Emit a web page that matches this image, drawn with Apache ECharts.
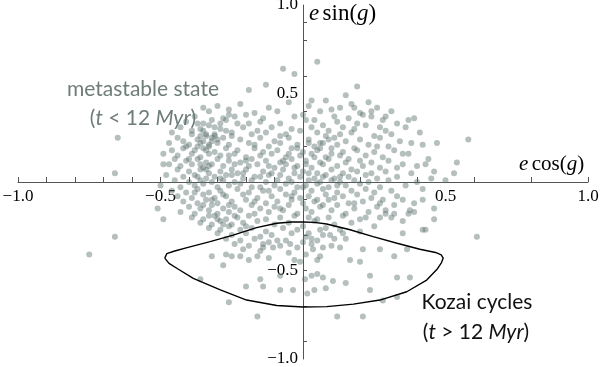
<!DOCTYPE html>
<html>
<head>
<meta charset="utf-8">
<script src="https://cdn.jsdelivr.net/npm/echarts@6.0.0/dist/echarts.min.js"></script>
<style>
* { margin: 0; padding: 0; }
#chart-container { width: 600px; height: 367px; background: #fff; }
</style>
</head>
<body>
<div id="chart-container"></div>
<script>
// tick / label positions
const xTickValues = [-1, -0.9, -0.8, -0.7, -0.6, -0.5, -0.4, -0.3, -0.2, -0.1, 0.2, 0.4, 0.6, 0.8, 1]
const yTickValues = [0.9, 0.8, 0.6, 0.4, 0.2, -0.1, -0.3, -0.5, -0.7, -0.9]
const xLabelValues = [-1, -0.5, 0.5, 1]
const yLabelValues = [1, 0.5, -0.5, -1]

// sparse points around the cloud
const outerPoints = [
  [-0.07, 0.64], [-0.03, 0.61], [-0.19, 0.52], [-0.13, 0.55], [-0.35, 0.42], [-0.65, 0.25], [-0.66, 0.05],
  [-0.49, 0.10], [-0.46, 0.18], [-0.41, 0.20], [-0.32, 0.35], [-0.29, 0.33], [-0.26, 0.38],
  [0.05, 0.68], [0.03, 0.46], [0.08, 0.46], [0.19, 0.54], [0.15, 0.49], [0.13, 0.42], [0.18, 0.42],
  [0.23, 0.45], [0.24, 0.40], [0.20, 0.39], [0.29, 0.37], [0.37, 0.35], [0.39, 0.36], [0.27, 0.31],
  [0.29, 0.29], [0.41, 0.28], [0.42, 0.21], [0.47, 0.22], [0.58, 0.24], [0.54, 0.11], [0.53, 0.05],
  [0.40, 0.09], [0.43, 0.10], [0.46, 0.06], [0.35, 0.16], [0.33, 0.08], [0.26, 0.20],
  [-0.66, -0.31], [-0.75, -0.41], [-0.49, -0.21], [-0.36, -0.55], [-0.16, -0.76], [-0.26, -0.68], [-0.51, -0.15],
  [-0.28, -0.47], [-0.22, -0.42], [-0.19, -0.44], [-0.15, -0.55], [-0.14, -0.59], [-0.20, -0.59],
  [-0.08, -0.53], [-0.08, -0.61], [-0.035, -0.61], [0.015, -0.63], [0.08, -0.60], [0.07, -0.54],
  [0.05, -0.52], [0.007, -0.55], [-0.01, -0.45], [0.035, -0.38], [0.07, -0.37], [0.13, -0.37],
  [0.165, -0.44], [0.2, -0.45], [0.235, -0.53], [0.15, -0.57], [0.235, -0.61], [0.12, -0.76],
  [0.21, -0.76], [0.21, -0.38], [0.27, -0.38], [0.32, -0.42], [0.365, -0.38], [0.375, -0.54],
  [0.33, -0.54], [0.42, -0.27], [0.46, -0.21], [0.375, -0.16], [0.32, -0.18], [-0.045, -0.35],
  [-0.09, -0.33], [-0.14, -0.37], [-0.16, -0.42], [-0.32, -0.42], [-0.27, -0.41], [-0.105, -0.37],
  [0.61, -0.31], [0.43, -0.27], [0.35, -0.29], [0.33, -0.65], [0.28, -0.67], [0.04, -0.61],
  [0.105, -0.56], [0.05, -0.44], [0.03, -0.53], [0.06, -0.27], [0.03, -0.32], [0.095, -0.30],
  [0.14, -0.29], [0.22, -0.20], [0.29, -0.18], [0.31, -0.20], [0.35, -0.22], [0.39, -0.17],
  [0.42, -0.10], [0.46, -0.15], [0.35, -0.10], [0.27, -0.12], [0.18, -0.12]
]

// dense cloud, upper half
const cloudUpper = [
  [-0.30, 0.43], [-0.22, 0.44], [-0.12, 0.42], [-0.05, 0.45], [0.02, 0.43], [0.10, 0.41], [0.17, 0.44], [0.26, 0.42],
  [-0.33, 0.40], [-0.26, 0.41], [-0.17, 0.39], [-0.09, 0.40], [0.00, 0.38], [0.06, 0.40], [0.21, 0.38], [0.31, 0.40],
  [-0.38, 0.37], [-0.28, 0.36], [-0.20, 0.38], [-0.14, 0.36], [-0.03, 0.37], [0.04, 0.35], [0.11, 0.37], [0.16, 0.36], [0.24, 0.37],
  [-0.41, 0.34], [-0.35, 0.33], [-0.27, 0.35], [-0.23, 0.33], [-0.15, 0.34], [-0.08, 0.33], [0.01, 0.35], [0.07, 0.32],
  [0.12, 0.34], [0.19, 0.33], [0.28, 0.35], [0.33, 0.33],
  [-0.43, 0.31], [-0.36, 0.30], [-0.33, 0.32], [-0.29, 0.30], [-0.21, 0.31], [-0.16, 0.29], [-0.11, 0.31], [-0.04, 0.30],
  [0.03, 0.31], [0.09, 0.29], [0.14, 0.31], [0.18, 0.30], [0.22, 0.32], [0.36, 0.31],
  [-0.46, 0.28], [-0.39, 0.27], [-0.35, 0.29], [-0.31, 0.27], [-0.25, 0.28], [-0.18, 0.27], [-0.13, 0.28], [-0.06, 0.27],
  [-0.01, 0.29], [0.05, 0.28], [0.08, 0.26], [0.13, 0.27], [0.17, 0.28], [0.25, 0.26], [0.31, 0.27],
  [-0.44, 0.25], [-0.37, 0.24], [-0.34, 0.26], [-0.32, 0.23], [-0.28, 0.25], [-0.22, 0.24], [-0.15, 0.25], [-0.10, 0.23],
  [-0.05, 0.25], [0.02, 0.24], [0.06, 0.22], [0.11, 0.25], [0.15, 0.23], [0.20, 0.24], [0.27, 0.25], [0.34, 0.23],
  [-0.47, 0.22], [-0.40, 0.21], [-0.36, 0.22], [-0.33, 0.20], [-0.30, 0.22], [-0.26, 0.21], [-0.19, 0.22], [-0.12, 0.20],
  [-0.08, 0.22], [-0.02, 0.21], [0.04, 0.20], [0.07, 0.22], [0.12, 0.21], [0.18, 0.19], [0.23, 0.21], [0.30, 0.20], [0.38, 0.22],
  [-0.42, 0.19], [-0.38, 0.18], [-0.35, 0.19], [-0.31, 0.17], [-0.27, 0.19], [-0.23, 0.18], [-0.17, 0.19], [-0.14, 0.17],
  [-0.09, 0.18], [-0.04, 0.19], [0.00, 0.17], [0.05, 0.18], [0.10, 0.19], [0.14, 0.17], [0.19, 0.18], [0.25, 0.17], [0.32, 0.18],
  [-0.49, 0.16], [-0.44, 0.15], [-0.39, 0.16], [-0.36, 0.14], [-0.33, 0.16], [-0.29, 0.15], [-0.24, 0.16], [-0.20, 0.14],
  [-0.15, 0.15], [-0.11, 0.16], [-0.06, 0.14], [-0.01, 0.15], [0.03, 0.16], [0.08, 0.14], [0.13, 0.15], [0.16, 0.13],
  [0.22, 0.15], [0.28, 0.14], [0.37, 0.16],
  [-0.45, 0.13], [-0.41, 0.12], [-0.37, 0.13], [-0.34, 0.11], [-0.30, 0.13], [-0.26, 0.12], [-0.22, 0.11], [-0.18, 0.13],
  [-0.13, 0.12], [-0.08, 0.11], [-0.04, 0.13], [0.01, 0.12], [0.06, 0.11], [0.09, 0.13], [0.15, 0.11], [0.20, 0.12],
  [0.24, 0.11], [0.30, 0.12], [0.44, 0.13],
  [-0.47, 0.10], [-0.43, 0.09], [-0.39, 0.10], [-0.35, 0.08], [-0.32, 0.10], [-0.28, 0.09], [-0.25, 0.07], [-0.19, 0.09],
  [-0.16, 0.10], [-0.10, 0.08], [-0.06, 0.10], [-0.02, 0.09], [0.03, 0.08], [0.07, 0.10], [0.12, 0.09], [0.17, 0.07],
  [0.21, 0.09], [0.27, 0.08], [0.35, 0.10],
  [-0.44, 0.07], [-0.40, 0.06], [-0.36, 0.07], [-0.33, 0.05], [-0.29, 0.06], [-0.23, 0.05], [-0.20, 0.07], [-0.14, 0.06],
  [-0.11, 0.05], [-0.07, 0.07], [-0.03, 0.05], [0.00, 0.06], [0.05, 0.05], [0.10, 0.07], [0.14, 0.05], [0.19, 0.06],
  [0.24, 0.05], [0.29, 0.06], [0.38, 0.05],
  [-0.48, 0.04], [-0.42, 0.03], [-0.38, 0.04], [-0.34, 0.02], [-0.31, 0.03], [-0.27, 0.04], [-0.21, 0.02], [-0.17, 0.03],
  [-0.12, 0.04], [-0.05, 0.02], [-0.01, 0.03], [0.04, 0.02], [0.08, 0.04], [0.11, 0.02], [0.16, 0.03], [0.22, 0.04],
  [0.26, 0.02], [0.33, 0.03], [0.45, 0.02],
  [-0.45, 0.01], [-0.40, 0.00], [-0.36, 0.01], [-0.32, 0.00], [-0.28, 0.01], [-0.24, 0.00], [-0.18, 0.01], [-0.13, 0.00],
  [-0.09, 0.01], [-0.04, 0.00], [0.02, 0.01], [0.06, 0.00], [0.10, 0.01], [0.13, 0.00], [0.18, 0.01], [0.23, 0.00],
  [0.30, 0.01], [0.40, 0.00], [0.50, 0.01],
  // darker clumps
  [-0.34, 0.27], [-0.32, 0.25], [-0.35, 0.23], [-0.31, 0.26], [-0.33, 0.21], [-0.30, 0.24], [-0.36, 0.26], [-0.37, 0.20],
  [-0.34, 0.18], [-0.36, 0.10], [-0.34, 0.07], [-0.37, 0.03], [-0.33, 0.09], [-0.26, 0.15], [-0.24, 0.10], [-0.21, 0.05],
  [-0.15, 0.03], [-0.12, 0.09], [-0.07, 0.12], [-0.03, 0.08], [0.01, 0.10], [0.04, 0.14], [0.07, 0.03], [-0.02, 0.19],
  [0.02, 0.22], [-0.08, 0.26], [0.10, 0.16], [-0.17, 0.21], [-0.25, 0.26], [-0.20, 0.12],
  [-0.39, 0.29], [-0.37, 0.33], [-0.31, 0.31], [-0.27, 0.29], [-0.24, 0.37], [-0.19, 0.33], [-0.42, 0.23], [-0.40, 0.13],
  [-0.29, 0.02], [-0.25, 0.04], [-0.08, 0.04], [-0.05, 0.16], [0.02, 0.05], [0.06, 0.19], [0.09, 0.24], [0.13, 0.03]
]

// dense cloud, lower half
const cloudLower = [
  [-0.50, -0.02], [-0.43, -0.03], [-0.38, -0.02], [-0.35, -0.01], [-0.30, -0.03], [-0.26, -0.02], [-0.22, -0.01],
  [-0.15, -0.03], [-0.10, -0.02], [-0.06, -0.01], [-0.02, -0.03], [0.01, -0.02], [0.05, -0.01], [0.09, -0.03],
  [0.15, -0.02], [0.20, -0.01], [0.27, -0.03], [0.36, -0.02],
  [-0.46, -0.05], [-0.41, -0.06], [-0.37, -0.04], [-0.33, -0.06], [-0.29, -0.05], [-0.23, -0.04], [-0.19, -0.06],
  [-0.14, -0.05], [-0.08, -0.04], [-0.03, -0.06], [0.03, -0.05], [0.07, -0.04], [0.12, -0.06], [0.17, -0.05],
  [0.22, -0.04], [0.25, -0.06], [0.31, -0.05], [0.42, -0.04],
  [-0.44, -0.08], [-0.39, -0.09], [-0.35, -0.07], [-0.31, -0.09], [-0.27, -0.08], [-0.21, -0.07], [-0.16, -0.09],
  [-0.11, -0.08], [-0.06, -0.07], [-0.01, -0.09], [0.02, -0.08], [0.08, -0.07], [0.11, -0.09], [0.14, -0.08],
  [0.19, -0.07], [0.24, -0.09], [0.33, -0.08],
  [-0.42, -0.11], [-0.37, -0.12], [-0.34, -0.10], [-0.30, -0.12], [-0.25, -0.11], [-0.20, -0.10], [-0.13, -0.12],
  [-0.09, -0.11], [-0.04, -0.10], [0.00, -0.12], [0.04, -0.11], [0.09, -0.10], [0.16, -0.12], [0.21, -0.11],
  [0.28, -0.10], [0.39, -0.12],
  [-0.40, -0.14], [-0.36, -0.15], [-0.32, -0.13], [-0.28, -0.15], [-0.24, -0.14], [-0.18, -0.13], [-0.15, -0.15],
  [-0.10, -0.14], [-0.05, -0.13], [0.01, -0.15], [0.06, -0.14], [0.12, -0.13], [0.18, -0.15], [0.26, -0.14], [0.32, -0.13],
  [-0.43, -0.17], [-0.38, -0.18], [-0.33, -0.16], [-0.30, -0.18], [-0.26, -0.17], [-0.22, -0.16], [-0.17, -0.18],
  [-0.12, -0.17], [-0.07, -0.16], [-0.02, -0.18], [0.03, -0.17], [0.10, -0.16], [0.15, -0.18], [0.23, -0.17],
  [0.29, -0.16], [0.37, -0.18],
  [-0.39, -0.20], [-0.35, -0.21], [-0.31, -0.19], [-0.27, -0.21], [-0.23, -0.20], [-0.19, -0.19], [-0.13, -0.21],
  [-0.08, -0.20], [-0.03, -0.19], [0.05, -0.21], [0.09, -0.20], [0.14, -0.19], [0.20, -0.21], [0.27, -0.20],
  [-0.36, -0.23], [-0.32, -0.24], [-0.29, -0.22], [-0.25, -0.24], [-0.21, -0.23], [-0.16, -0.22], [-0.10, -0.24],
  [-0.05, -0.23], [0.00, -0.25], [0.04, -0.22], [0.11, -0.24], [0.17, -0.23], [0.25, -0.25],
  [-0.33, -0.26], [-0.29, -0.27], [-0.26, -0.25], [-0.22, -0.27], [-0.18, -0.26], [-0.13, -0.28], [-0.07, -0.26],
  [-0.02, -0.27], [0.02, -0.29], [0.08, -0.26], [0.13, -0.27], [0.20, -0.28],
  [-0.30, -0.29], [-0.25, -0.30], [-0.20, -0.29], [-0.15, -0.31], [-0.11, -0.30], [-0.04, -0.29], [0.01, -0.31],
  [0.07, -0.30], [0.11, -0.32],
  [-0.27, -0.32], [-0.22, -0.33], [-0.17, -0.32], [-0.12, -0.34], [-0.06, -0.33], [0.00, -0.34], [0.05, -0.33], [0.15, -0.32],
  [-0.24, -0.35], [-0.19, -0.36], [-0.14, -0.35], [-0.08, -0.36], [-0.02, -0.37], [0.03, -0.35], [0.10, -0.36],
  [-0.21, -0.38], [-0.15, -0.39], [-0.05, -0.40], [0.01, -0.41],
  [-0.25, -0.42], [-0.12, -0.43], [-0.03, -0.44], [0.06, -0.42],
  // darker clumps
  [-0.33, -0.19], [-0.30, -0.21], [-0.28, -0.24], [-0.35, -0.13], [-0.24, -0.19], [-0.20, -0.25], [-0.04, -0.08],
  [0.00, -0.03], [-0.12, -0.05], [0.05, -0.10], [-0.18, -0.03], [-0.28, -0.07],
  [-0.38, -0.06], [-0.32, -0.10], [-0.26, -0.13], [-0.17, -0.11], [-0.08, -0.15], [0.02, -0.20], [0.07, -0.13], [0.12, -0.02]
]

// Kozai loop, upper branch then lower branch
const kozaiCurve = [
  [-0.485, -0.43], [-0.478, -0.405], [-0.45, -0.39], [-0.41, -0.372], [-0.326, -0.337], [-0.245, -0.30],
  [-0.163, -0.258], [-0.092, -0.233], [-0.04, -0.226], [0.0, -0.226], [0.04, -0.228], [0.083, -0.237],
  [0.165, -0.27], [0.246, -0.309], [0.33, -0.346], [0.41, -0.38], [0.465, -0.398], [0.485, -0.412],
  [0.492, -0.43], [0.486, -0.455], [0.472, -0.49], [0.434, -0.554], [0.364, -0.62], [0.27, -0.667],
  [0.177, -0.69], [0.083, -0.704], [0.0, -0.706], [-0.092, -0.698], [-0.198, -0.667], [-0.29, -0.61],
  [-0.385, -0.544], [-0.44, -0.49], [-0.47, -0.46], [-0.485, -0.43]
]

const chartDom = document.getElementById('chart-container')
const myChart = echarts.init(chartDom, null, { renderer: 'canvas' })

const fmt = (v) => (v < 0 ? '\u2212' : '') + Math.abs(v).toFixed(1)
const axisFont = 'Liberation Serif'
const noteGray = '#6e7d7a'

const option = {
  animation: false,
  backgroundColor: '#fff',
  grid: {
    left: 18,
    right: 12,
    top: 5,
    bottom: 8,
    containLabel: false,
    outerBoundsMode: 'none'
  },
  xAxis: {
    type: 'value',
    min: -1,
    max: 1,
    position: 'bottom',
    offset: -177, // moves the axis up onto y = 0
    axisLine: { onZero: false, lineStyle: { color: '#555', width: 1 } },
    axisTick: { show: true, inside: true, length: 5, customValues: xTickValues, lineStyle: { color: '#555' } },
    axisLabel: {
      customValues: xLabelValues,
      formatter: fmt,
      fontFamily: axisFont,
      fontSize: 17,
      color: '#000',
      margin: 6
    },
    splitLine: { show: false }
  },
  yAxis: {
    type: 'value',
    min: -1,
    max: 1,
    position: 'left',
    offset: -285, // moves the axis right onto x = 0
    axisLine: { onZero: false, lineStyle: { color: '#555', width: 1 } },
    axisTick: { show: true, inside: true, length: 4, customValues: yTickValues, lineStyle: { color: '#555' } },
    axisLabel: {
      customValues: yLabelValues,
      formatter: fmt,
      fontFamily: axisFont,
      fontSize: 17,
      color: '#000',
      margin: 5
    },
    splitLine: { show: false }
  },
  graphic: [
    {
      type: 'text',
      left: 309,
      top: 2,
      style: {
        text: '{i|e} {r|sin(}{i|g}{r|)}',
        rich: {
          i: { fontFamily: axisFont, fontStyle: 'italic', fontSize: 23, fill: '#000' },
          r: { fontFamily: axisFont, fontSize: 23, fill: '#000' }
        }
      }
    },
    {
      type: 'text',
      left: 519,
      top: 154,
      style: {
        text: '{i|e} {r|cos(}{i|g}{r|)}',
        rich: {
          i: { fontFamily: axisFont, fontStyle: 'italic', fontSize: 21, fill: '#000' },
          r: { fontFamily: axisFont, fontSize: 21, fill: '#000' }
        }
      }
    },
    {
      type: 'text',
      x: 143,
      y: 89,
      style: {
        text: 'metastable state',
        font: '21px Lato',
        fill: noteGray,
        align: 'center',
        verticalAlign: 'middle'
      }
    },
    {
      type: 'text',
      x: 143,
      y: 118,
      style: {
        text: '{r|(}{i|t}{r| < 12 }{i|Myr}{r|)}',
        align: 'center',
        verticalAlign: 'middle',
        rich: {
          r: { fontFamily: 'Lato', fontSize: 21, fill: noteGray },
          i: { fontFamily: 'Lato', fontStyle: 'italic', fontSize: 21, fill: noteGray }
        }
      }
    },
    {
      type: 'text',
      x: 477,
      y: 302,
      style: {
        text: 'Kozai cycles',
        font: '21px Lato',
        fill: '#111',
        align: 'center',
        verticalAlign: 'middle'
      }
    },
    {
      type: 'text',
      x: 476,
      y: 332,
      style: {
        text: '{r|(}{i|t}{r| > 12 }{i|Myr}{r|)}',
        align: 'center',
        verticalAlign: 'middle',
        rich: {
          r: { fontFamily: 'Lato', fontSize: 21, fill: '#111' },
          i: { fontFamily: 'Lato', fontStyle: 'italic', fontSize: 21, fill: '#111' }
        }
      }
    }
  ],
  series: [
    {
      name: 'states',
      type: 'scatter',
      silent: true,
      symbolSize: 6,
      itemStyle: { color: '#5c706d', opacity: 0.45 },
      data: outerPoints.concat(cloudUpper, cloudLower)
    },
    {
      name: 'Kozai',
      type: 'line',
      silent: true,
      showSymbol: false,
      smooth: false,
      lineStyle: { color: '#000', width: 1.4 },
      data: kozaiCurve,
      z: 3
    }
  ]
}

myChart.setOption(option)
</script>
</body>
</html>
